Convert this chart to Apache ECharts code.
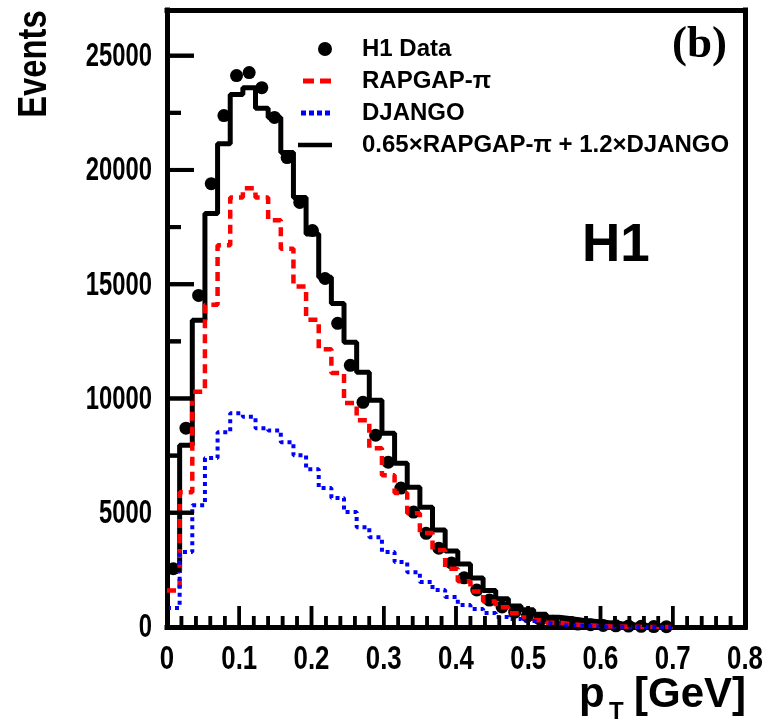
<!DOCTYPE html>
<html>
<head>
<meta charset="utf-8">
<script src="https://cdn.jsdelivr.net/npm/echarts@6/dist/echarts.min.js"></script>
<style>
  html, body { margin: 0; padding: 0; background: #fff; }
  #chart { width: 768px; height: 728px; }
</style>
</head>
<body>
<div id="chart"></div>
<script>
// bin edges in pT [GeV] (40 bins, 0 - 0.7)
var binEdges = [0, 0.0175, 0.035, 0.0525, 0.07, 0.0875, 0.105, 0.1225, 0.14, 0.1575,
    0.175, 0.1925, 0.21, 0.2275, 0.245, 0.2625, 0.28, 0.2975, 0.315, 0.3325,
    0.35, 0.3675, 0.385, 0.4025, 0.42, 0.4375, 0.455, 0.4725, 0.49, 0.5075,
    0.525, 0.5425, 0.56, 0.5775, 0.595, 0.6125, 0.63, 0.6475, 0.665, 0.6825, 0.7];

// H1 data points (per bin)
var h1Data = [2550, 8700, 14510, 19400, 22380, 24130, 24260, 23600, 22300, 20540,
    18580, 17350, 15250, 13290, 11450, 9830, 8390, 7210, 6080, 5030,
    4100, 3450, 2800, 2150, 1620, 1180, 880, 650, 480, 340,
    250, 180, 130, 100, 70, 50, 40, 30, 20, 15];

// RAPGAP-pi (red dashed)
var rapgap = [1600, 5900, 10300, 14100, 16700, 18800, 19200, 18800, 17800, 16550,
    14900, 13450, 12150, 11120, 9800, 9050, 7820, 6640, 5860, 4980,
    4110, 3370, 2550, 2000, 1550, 1120, 860, 600, 420, 290,
    190, 120, 80, 50, 30, 20, 10, 0, 0, 0];

// DJANGO (blue dotted)
var django = [830, 3280, 5330, 7390, 8520, 9350, 9200, 8700, 8600, 8090,
    7520, 6900, 6080, 5640, 5030, 4370, 3930, 3280, 2840, 2400,
    1970, 1620, 1310, 960, 790, 610, 440, 350, 260, 175,
    120, 80, 50, 30, 20, 10, 5, 0, 0, 0];

// 0.65 x RAPGAP + 1.2 x DJANGO (black)
var combined = [2450, 7950, 13420, 18090, 21150, 23300, 23600, 22700, 22300, 20760,
    18790, 17200, 15300, 14160, 12460, 11150, 9920, 8480, 7170, 6120,
    5245, 4240, 3330, 2760, 2140, 1600, 1240, 920, 760, 560,
    430, 360, 290, 240, 190, 140, 100, 70, 50, 30];

// axis ticks and labels
var xTickVals = [0, 0.1, 0.2, 0.3, 0.4, 0.5, 0.6, 0.7, 0.8];
var xTickLabels = ['0', '0.1', '0.2', '0.3', '0.4', '0.5', '0.6', '0.7', '0.8'];
var yTickVals = [0, 5000, 10000, 15000, 20000, 25000];
var yTickLabels = ['0', '5000', '10000', '15000', '20000', '25000'];

var legendNames = ['H1 Data', 'RAPGAP-\u03c0', 'DJANGO', '0.65\u00d7RAPGAP-\u03c0 + 1.2\u00d7DJANGO'];

var sansFont = "'Liberation Sans', Arial, sans-serif";

// legend icons (34x14 box, corner points keep the box size)
var boxPts = 'M0,0L0.01,0M0,14L0.01,14M34,0L33.99,0';
var iconDot = 'path://' + boxPts + 'M20,7a7,7 0 1,0 14,0a7,7 0 1,0 -14,0Z';
var iconDash = 'path://' + boxPts + 'M5,4.5h11v5h-11zM22,4.5h11v5h-11z';
var iconDot4 = 'path://' + boxPts + 'M3,4.5h5v5h-5zM11,4.5h5v5h-5zM19,4.5h5v5h-5zM27,4.5h5v5h-5z';
var iconLine = 'path://' + boxPts + 'M0,4.7h34v4.6h-34z';

//直方图阶梯数据
function stepData(vals){
    var out = [];
    for(var i = 0; i < vals.length; i++){
        out.push([binEdges[i], vals[i]]);
    }
    out.push([binEdges[vals.length], vals[vals.length - 1]]);
    return out;
}
function pointData(vals){
    var out = [];
    for(var i = 0; i < vals.length; i++){
        out.push([(binEdges[i] + binEdges[i + 1]) / 2, vals[i]]);
    }
    return out;
}
// 刻度: [value, labelIndex]，labelIndex=-1 为小刻度
function tickData(vals, nSub){
    var out = [];
    for(var i = 0; i < vals.length; i++){
        out.push([vals[i], i]);
        if(i < vals.length - 1){
            for(var j = 1; j < nSub; j++){
                out.push([vals[i] + (vals[i + 1] - vals[i]) * j / nSub, -1]);
            }
        }
    }
    return out;
}

function renderXTick(params, api){
    var p = api.coord([api.value(0), 0]);
    var idx = api.value(1);
    var len = idx >= 0 ? 21 : 11;
    var children = [{
        type: 'rect', z2: 100,
        shape: { x: p[0] - 1.75, y: p[1] - len, width: 3.5, height: len },
        style: { fill: '#000', stroke: null, opacity: 1 }
    }];
    if(idx >= 0){
        children.push({
            type: 'text', x: p[0], y: p[1] + 16, scaleX: 0.76,
            style: { text: xTickLabels[idx], font: 'bold 34px ' + sansFont, fill: '#000', textAlign: 'center', textVerticalAlign: 'top' }
        });
    }
    return { type: 'group', children: children };
}
function renderYTick(params, api){
    var p = api.coord([0, api.value(0)]);
    var idx = api.value(1);
    var len = idx >= 0 ? 27 : 14;
    var children = [{
        type: 'rect', z2: 100,
        shape: { x: p[0], y: p[1] - 2, width: len, height: 4 },
        style: { fill: '#000', stroke: null, opacity: 1 }
    }];
    if(idx >= 0){
        children.push({
            type: 'text', x: p[0] - 15, y: p[1] + 1, scaleX: 0.7,
            style: { text: yTickLabels[idx], font: 'bold 34px ' + sansFont, fill: '#000', textAlign: 'right', textVerticalAlign: 'middle' }
        });
    }
    return { type: 'group', children: children };
}

var frameLine = { show: true, onZero: false, lineStyle: { color: '#000', width: 5, cap: 'square' } };
var hidden = { show: false };

var chart = echarts.init(document.getElementById('chart'));
var option = {
    animation: false,
    backgroundColor: '#fff',
    grid: { left: 167, right: 23, top: 10, bottom: 101 },
    legend: {
        orient: 'vertical',
        left: 293, top: 32,
        itemWidth: 34, itemHeight: 14, itemGap: 8,
        textStyle: { fontFamily: sansFont, fontWeight: 'bold', fontSize: 24, color: '#000', padding: [0, 0, 0, 25] },
        data: [
            { name: legendNames[0], icon: iconDot },
            { name: legendNames[1], icon: iconDash },
            { name: legendNames[2], icon: iconDot4 },
            { name: legendNames[3], icon: iconLine }
        ]
    },
    xAxis: [{
        type: 'value', min: 0, max: 0.8, interval: 0.1, position: 'bottom',
        axisLine: frameLine, axisTick: hidden, axisLabel: hidden, splitLine: hidden
    }, {
        type: 'value', min: 0, max: 0.8, interval: 0.1, position: 'top',
        axisLine: frameLine, axisTick: hidden, axisLabel: hidden, splitLine: hidden
    }],
    yAxis: [{
        type: 'value', min: 0, max: 27000, interval: 5000, position: 'left',
        axisLine: frameLine, axisTick: hidden, axisLabel: hidden, splitLine: hidden
    }, {
        type: 'value', min: 0, max: 27000, interval: 5000, position: 'right',
        axisLine: frameLine, axisTick: hidden, axisLabel: hidden, splitLine: hidden
    }],
    series: [{
        type: 'custom', silent: true, z: 10, clip: false,
        data: tickData(xTickVals, 5),
        renderItem: renderXTick
    }, {
        type: 'custom', silent: true, z: 10, clip: false,
        data: tickData(yTickVals, 2),
        renderItem: renderYTick
    }, {
        name: legendNames[3], type: 'line', step: 'end', symbol: 'none', z: 2,
        data: stepData(combined),
        itemStyle: { color: '#000' },
        lineStyle: { color: '#000', width: 5 }
    }, {
        name: legendNames[0], type: 'scatter', symbol: 'circle', symbolSize: 13, z: 3,
        data: pointData(h1Data),
        itemStyle: { color: '#000', opacity: 1 }
    }, {
        name: legendNames[1], type: 'line', step: 'end', symbol: 'none', z: 4,
        data: stepData(rapgap),
        itemStyle: { color: '#ff0000' },
        lineStyle: { color: '#ff0000', width: 4.5, type: [9, 6], cap: 'butt' }
    }, {
        name: legendNames[2], type: 'line', step: 'end', symbol: 'none', z: 5,
        data: stepData(django),
        itemStyle: { color: '#0000ff' },
        lineStyle: { color: '#0000ff', width: 4, type: [4, 4], cap: 'butt' }
    }],
    graphic: [
        { id: 'tb', type: 'text', x: 727, y: 45,
          style: { text: '(b)', font: "bold 45px 'Liberation Serif', 'Times New Roman', serif", fill: '#000', textAlign: 'right', textVerticalAlign: 'middle' } },
        { id: 'th1', type: 'text', x: 582, y: 246,
          style: { text: 'H1', font: "bold 53px " + sansFont, fill: '#000', textAlign: 'left', textVerticalAlign: 'middle' } },
        { id: 'tev', type: 'text', x: 35, y: 64, rotation: Math.PI / 2, scaleX: 0.82,
          style: { text: 'Events', font: "bold 40px " + sansFont, fill: '#000', textAlign: 'center', textVerticalAlign: 'middle' } },
        { id: 'tp', type: 'text', left: 579, top: 674,
          style: { text: 'p', font: "bold 42px " + sansFont, fill: '#000' } },
        { id: 'tt', type: 'text', left: 609, top: 700,
          style: { text: 'T', font: "bold 24px " + sansFont, fill: '#000' } },
        { id: 'tg', type: 'text', left: 634, top: 674,
          style: { text: '[GeV]', font: "bold 42px " + sansFont, fill: '#000' } }
    ]
};
chart.setOption(option);

// 刻度线备用画法: 用坐标轴换算像素位置
try {
    var tickEls = [];
    var finder = { xAxisIndex: 0, yAxisIndex: 0 };
    tickData(xTickVals, 5).forEach(function(t, i){
        var p = chart.convertToPixel(finder, [t[0], 0]);
        var len = t[1] >= 0 ? 21 : 11;
        tickEls.push({ id: 'xt' + i, type: 'rect', z: 100,
            shape: { x: p[0] - 1.75, y: p[1] - len, width: 3.5, height: len },
            style: { fill: '#000' } });
    });
    tickData(yTickVals, 2).forEach(function(t, i){
        var p = chart.convertToPixel(finder, [0, t[0]]);
        var len = t[1] >= 0 ? 27 : 14;
        tickEls.push({ id: 'yt' + i, type: 'rect', z: 100,
            shape: { x: p[0], y: p[1] - 2, width: len, height: 4 },
            style: { fill: '#000' } });
    });
    chart.setOption({ graphic: tickEls });
} catch(e) {}
</script>
</body>
</html>
